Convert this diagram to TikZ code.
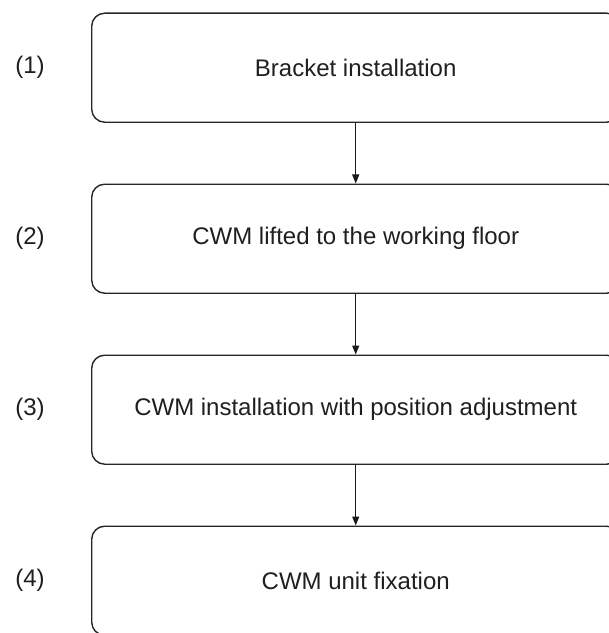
\documentclass[tikz,border=0pt]{standalone}
\usepackage{fontspec}
\setmainfont{Liberation Sans}
\usetikzlibrary{arrows.meta}
\begin{document}
\begin{tikzpicture}[x=1bp,y=-1bp,
  stepbox/.style={draw=black!85, line width=1.4bp, rounded corners=13bp, minimum width=528bp, minimum height=109bp, anchor=north west, inner sep=0pt, font=\fontsize{24bp}{28bp}\selectfont, text=black!88},
  numlabel/.style={font=\fontsize{24bp}{28bp}\selectfont, text=black!88},
  flow/.style={draw=black!90, line width=1.1bp, -{Triangle[length=9bp,width=7bp]}}]
\useasboundingbox (0,0) rectangle (609,633);
\clip (0,0) rectangle (609,633);
\node[stepbox] (b1) at (91,12.5) {Bracket installation};
\node[stepbox] (b2) at (91,183.5) {CWM lifted to the working floor};
\node[stepbox] (b3) at (91,354.5) {CWM installation with position adjustment};
\node[stepbox] (b4) at (91,525.5) {CWM unit fixation};
\node[numlabel] (l1) at (30,67) {(1)};
\node[numlabel] (l2) at (30,238) {(2)};
\node[numlabel] (l3) at (30,409) {(3)};
\node[numlabel] (l4) at (30,580) {(4)};
\draw[flow] (b1.south) -- (b2.north);
\draw[flow] (b2.south) -- (b3.north);
\draw[flow] (b3.south) -- (b4.north);
\end{tikzpicture}
\end{document}
